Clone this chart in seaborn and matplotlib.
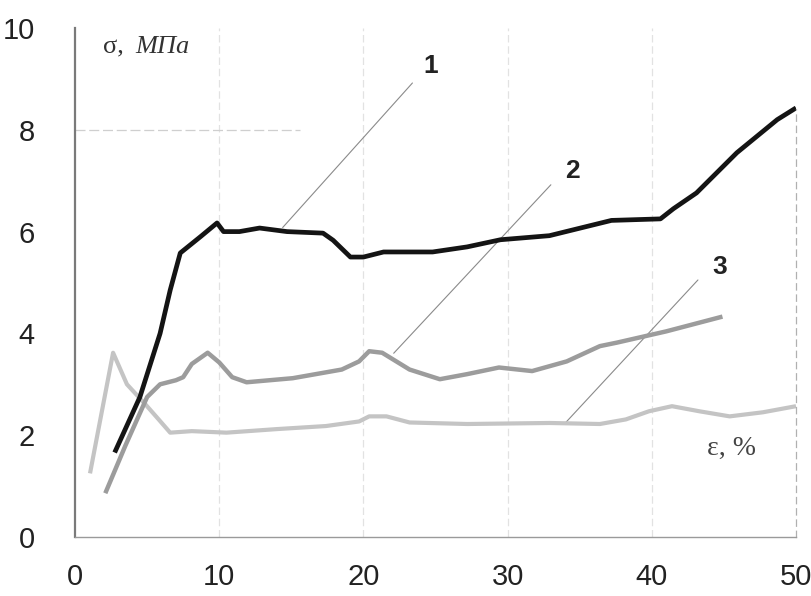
import matplotlib
matplotlib.use("Agg")
import matplotlib.pyplot as plt
import seaborn as sns
import pandas as pd

# Strain (%) and stress (MPa) for the three specimens
eps1 = [2.75, 4.5, 5.9, 6.6, 7.3, 8.7, 9.85, 10.3, 11.4, 12.8, 14.7, 17.2, 17.9,
        19.1, 20.0, 21.4, 24.8, 27.2, 29.5, 32.9, 37.2, 40.6, 41.5, 43.1, 45.9,
        48.7, 50.0]
sigma1 = [1.66, 2.75, 4.0, 4.85, 5.58, 5.9, 6.17, 6.0, 6.0, 6.07, 6.0, 5.97, 5.83,
          5.5, 5.5, 5.6, 5.6, 5.7, 5.84, 5.92, 6.22, 6.25, 6.45, 6.76, 7.55,
          8.2, 8.43]

eps2 = [2.1, 3.5, 5.0, 5.9, 7.0, 7.5, 8.1, 9.2, 10.0, 10.9, 11.9, 15.1, 18.5,
        19.7, 20.4, 21.3, 23.2, 25.3, 27.2, 29.4, 31.7, 34.1, 36.4, 37.6, 41.0,
        44.9]
sigma2 = [0.86, 1.8, 2.75, 3.0, 3.08, 3.14, 3.4, 3.62, 3.43, 3.14, 3.04, 3.12,
          3.29, 3.45, 3.65, 3.62, 3.29, 3.1, 3.2, 3.33, 3.26, 3.45, 3.75, 3.82,
          4.04, 4.33]

eps3 = [1.04, 2.64, 3.6, 4.9, 5.8, 6.6, 8.1, 10.5, 14.0, 17.4, 19.7, 20.4, 21.6,
        23.2, 27.2, 32.9, 36.4, 38.2, 39.8, 41.4, 43.3, 45.4, 47.7, 50.0]
sigma3 = [1.25, 3.62, 3.0, 2.6, 2.31, 2.05, 2.08, 2.05, 2.12, 2.18, 2.27, 2.37,
          2.37, 2.25, 2.22, 2.24, 2.22, 2.31, 2.47, 2.57, 2.47, 2.37, 2.45, 2.57]

curve_labels = ["1", "2", "3"]
x_ticks = [0, 10, 20, 30, 40, 50]
y_ticks = [0, 2, 4, 6, 8, 10]

sns.set_theme(style="white")
plt.rcParams["font.family"] = ["Liberation Sans", "DejaVu Sans"]

fig = plt.figure(figsize=(8.11, 5.96), dpi=100)
ax = fig.add_axes([0.0925, 0.099, 0.889, 0.854])

series = [
    (eps3, sigma3, "#c4c4c4", 3.0),
    (eps2, sigma2, "#9c9c9c", 3.2),
    (eps1, sigma1, "#141414", 3.4),
]
for xs, ys, col, lw in series:
    df = pd.DataFrame({"eps": xs, "sigma": ys})
    sns.lineplot(data=df, x="eps", y="sigma", ax=ax, color=col, linewidth=lw,
                 sort=False, estimator=None, solid_capstyle="butt")

# faint grid of the original sheet
for gx in [10, 20, 30, 40]:
    ax.axvline(gx, color="#e2e2e2", lw=0.9, ls=(0, (6, 3)), zorder=0)
ax.plot([0, 15.6], [8, 8], color="#cfcfcf", lw=0.9, ls=(0, (8, 3)), zorder=0)

# leader lines from the curve numbers
leaders = [((14.4, 6.08), (23.4, 8.92), (24.7, 9.25)),
           ((22.1, 3.61), (33.0, 6.92), (34.5, 7.2)),
           ((34.0, 2.24), (43.2, 5.05), (44.7, 5.3))]
for (p0, p1, pt), lab in zip(leaders, curve_labels):
    ax.plot([p0[0], p1[0]], [p0[1], p1[1]], color="#8a8a8a", lw=0.8, zorder=1)
    ax.text(pt[0], pt[1], lab, fontsize=19, fontweight="bold", color="#222222",
            ha="center", va="center")

ax.text(1.95, 9.62, "σ,", fontsize=19, family=["Liberation Serif"],
        color="#333333", ha="left", va="center")
ax.text(4.15, 9.62, "МПа", fontsize=19, family=["Liberation Serif"],
        style="italic", color="#333333", ha="left", va="center")
ax.text(43.8, 1.75, "ε, %", fontsize=20, family=["Liberation Serif"],
        color="#444444", ha="left", va="center")

ax.set_xlim(0, 50)
ax.set_ylim(0, 10)
ax.set_xticks(x_ticks)
ax.set_yticks(y_ticks)
ax.set_xticklabels([str(v) for v in x_ticks])
ax.set_yticklabels([str(v) for v in y_ticks])
ax.set_xlabel("")
ax.set_ylabel("")
ax.tick_params(axis="both", labelsize=21, colors="#8a8a8a", labelcolor="#222222",
               length=5, width=0.8, direction="out")
ax.tick_params(axis="y", pad=24)
ax.tick_params(axis="x", pad=14)

ax.spines["top"].set_visible(False)
ax.spines["right"].set_color("#b0b0b0")
ax.spines["right"].set_linestyle((0, (5, 4)))
ax.spines["right"].set_linewidth(0.9)
ax.spines["right"].set_bounds(0, 8.4)
ax.spines["left"].set_color("#7a7a7a")
ax.spines["left"].set_linewidth(1.6)
ax.spines["bottom"].set_color("#9a9a9a")
ax.spines["bottom"].set_linewidth(1.0)

fig.savefig("out.png", dpi=100, facecolor="white")
